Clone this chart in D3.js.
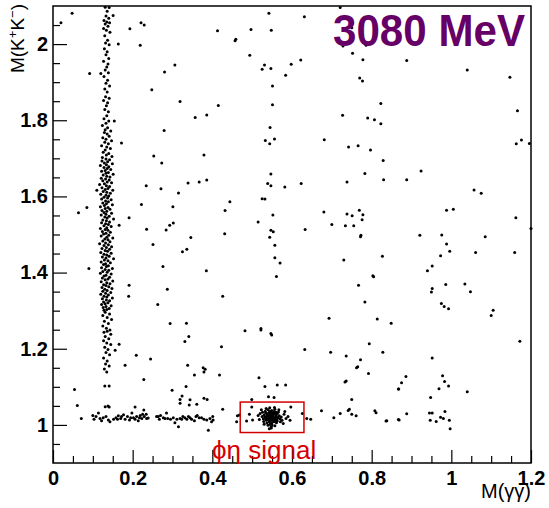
<!DOCTYPE html>
<html>
<head>
<meta charset="utf-8">
<script src="https://cdn.jsdelivr.net/npm/d3@7"></script>
<style>
  body { margin: 0; background: #fff; }
  svg text { font-family: "Liberation Sans", Arial, Helvetica, sans-serif; }
</style>
</head>
<body>
<div id="chart"></div>
<script>
// axis ranges and ticks
const xDomain = [0, 1.2];
const yDomain = [0.9, 2.1];
const xTicks = [0, 0.2, 0.4, 0.6, 0.8, 1.0, 1.2];
const xTickLabels = ["0", "0.2", "0.4", "0.6", "0.8", "1", "1.2"];
const yTicks = [1.0, 1.2, 1.4, 1.6, 1.8, 2.0];
const yTickLabels = ["1", "1.2", "1.4", "1.6", "1.8", "2"];

const titleText = "3080 MeV";
const signalLabel = "ϕη signal";
// signal window [x0, x1, y0, y1]
const signalBox = [0.47, 0.63, 0.98, 1.06];

// events: [M(gg), M(KK)]
// eta band (vertical, M(gg) ~ 0.135)
const etaBandPts = [
  [0.131,2.097],[0.141,2.096],[0.136,2.086],[0.133,2.074],[0.140,2.068],[0.128,2.062],[0.135,2.058],[0.142,2.056],
  [0.131,2.053],[0.138,2.047],[0.127,2.041],[0.134,2.036],[0.143,2.031],[0.130,2.022],[0.137,2.010],[0.132,2.003],
  [0.141,1.998],[0.129,1.988],[0.136,1.980],[0.133,1.972],[0.140,1.962],[0.127,1.955],[0.138,1.948],[0.135,1.940],
  [0.131,1.932],[0.139,1.925],[0.128,1.915],[0.137,1.905],[0.133,1.897],[0.142,1.890],[0.130,1.882],[0.136,1.874],
  [0.132,1.862],[0.141,1.858],[0.127,1.852],[0.137,1.846],[0.134,1.838],[0.130,1.828],[0.139,1.822],[0.135,1.812],
  [0.128,1.804],[0.140,1.798],[0.133,1.792],[0.124,1.786],[0.137,1.780],[0.131,1.775],[0.145,1.772],[0.129,1.768],
  [0.136,1.764],[0.141,1.758],[0.125,1.754],[0.133,1.750],[0.147,1.746],[0.130,1.742],[0.139,1.738],[0.122,1.733],
  [0.135,1.730],[0.144,1.726],[0.131,1.722],[0.126,1.716],[0.140,1.713],[0.134,1.709],[0.148,1.705],[0.124,1.702],
  [0.133,1.698],[0.142,1.696],[0.123,1.693],[0.137,1.691],[0.129,1.688],[0.149,1.686],[0.134,1.683],[0.119,1.681],
  [0.140,1.678],[0.128,1.676],[0.136,1.673],[0.145,1.671],[0.131,1.668],[0.122,1.666],[0.139,1.663],[0.133,1.661],
  [0.151,1.658],[0.126,1.656],[0.135,1.653],[0.143,1.651],[0.121,1.648],[0.132,1.646],[0.141,1.643],[0.125,1.641],
  [0.136,1.638],[0.147,1.636],[0.129,1.633],[0.117,1.631],[0.134,1.628],[0.142,1.626],[0.123,1.623],[0.138,1.621],
  [0.131,1.618],[0.150,1.616],[0.126,1.613],[0.135,1.611],[0.144,1.608],[0.120,1.606],[0.133,1.603],[0.140,1.601],
  [0.128,1.598],[0.137,1.596],[0.122,1.593],[0.146,1.591],[0.132,1.588],[0.139,1.586],[0.125,1.583],[0.134,1.581],
  [0.149,1.578],[0.129,1.576],[0.119,1.573],[0.138,1.571],[0.131,1.568],[0.143,1.566],[0.123,1.563],[0.135,1.561],
  [0.128,1.558],[0.147,1.556],[0.133,1.553],[0.121,1.551],[0.141,1.548],[0.130,1.546],[0.136,1.543],[0.152,1.541],
  [0.125,1.538],[0.134,1.536],[0.142,1.533],[0.122,1.531],[0.132,1.528],[0.139,1.526],[0.128,1.523],[0.146,1.521],
  [0.135,1.518],[0.119,1.516],[0.131,1.513],[0.138,1.511],[0.124,1.508],[0.144,1.506],[0.133,1.503],[0.127,1.501],
  [0.140,1.498],[0.121,1.496],[0.135,1.493],[0.150,1.491],[0.130,1.488],[0.138,1.486],[0.125,1.483],[0.143,1.481],
  [0.132,1.478],[0.117,1.476],[0.139,1.473],[0.128,1.471],[0.147,1.468],[0.134,1.466],[0.123,1.463],[0.142,1.461],
  [0.131,1.458],[0.137,1.456],[0.120,1.453],[0.146,1.451],[0.128,1.448],[0.135,1.446],[0.141,1.443],[0.124,1.441],
  [0.133,1.438],[0.152,1.436],[0.129,1.433],[0.138,1.431],[0.121,1.428],[0.144,1.426],[0.132,1.423],[0.127,1.421],
  [0.139,1.418],[0.134,1.416],[0.122,1.413],[0.149,1.411],[0.131,1.408],[0.140,1.406],[0.125,1.403],[0.136,1.401],
  [0.119,1.398],[0.146,1.396],[0.133,1.393],[0.128,1.391],[0.142,1.388],[0.124,1.386],[0.138,1.383],[0.131,1.381],
  [0.150,1.378],[0.121,1.376],[0.135,1.373],[0.143,1.371],[0.127,1.368],[0.133,1.366],[0.140,1.363],[0.123,1.361],
  [0.148,1.358],[0.130,1.356],[0.136,1.353],[0.125,1.351],[0.145,1.348],[0.132,1.346],[0.120,1.343],[0.139,1.341],
  [0.128,1.338],[0.135,1.336],[0.149,1.333],[0.124,1.331],[0.134,1.328],[0.142,1.326],[0.127,1.323],[0.138,1.321],
  [0.131,1.318],[0.122,1.316],[0.146,1.313],[0.133,1.311],[0.126,1.308],[0.141,1.306],[0.135,1.303],[0.128,1.301],
  [0.131,1.296],[0.142,1.291],[0.125,1.287],[0.136,1.282],[0.147,1.277],[0.129,1.272],[0.139,1.266],[0.125,1.260],
  [0.134,1.254],[0.143,1.249],[0.128,1.243],[0.136,1.246],[0.145,1.238],[0.131,1.232],[0.140,1.226],[0.127,1.221],
  [0.135,1.215],[0.145,1.211],[0.130,1.204],[0.138,1.198],[0.133,1.190],[0.142,1.184],[0.127,1.176],[0.136,1.168],
  [0.132,1.160],[0.141,1.155],[0.129,1.147],[0.135,1.139],[0.130,1.102],[0.141,1.102],[0.131,1.048],[0.138,1.050],
  [0.141,1.047]
];

// phi band (horizontal, M(KK) ~ 1.02)
const phiBandPts = [
  [0.100,1.025],[0.103,1.015],[0.108,1.022],[0.114,1.031],[0.118,1.017],[0.122,1.011],[0.126,1.019],[0.133,1.022],
  [0.139,1.013],[0.143,1.008],[0.152,1.015],[0.158,1.019],[0.162,1.015],[0.164,1.024],[0.170,1.017],[0.172,1.022],
  [0.177,1.027],[0.181,1.015],[0.187,1.022],[0.192,1.013],[0.195,1.019],[0.198,1.031],[0.202,1.019],[0.206,1.015],
  [0.210,1.022],[0.214,1.011],[0.217,1.019],[0.219,1.025],[0.223,1.017],[0.225,1.028],[0.229,1.022],[0.234,1.028],
  [0.235,1.017],[0.239,1.018],[0.260,1.022],[0.264,1.022],[0.267,1.015],[0.270,1.025],[0.277,1.019],[0.281,1.017],
  [0.285,1.031],[0.288,1.017],[0.295,1.015],[0.302,1.019],[0.306,1.006],[0.311,1.015],[0.315,0.995],[0.319,1.017],
  [0.323,1.015],[0.326,1.022],[0.331,1.019],[0.336,1.015],[0.340,1.022],[0.344,1.019],[0.348,1.015],[0.355,1.011],
  [0.359,1.022],[0.362,1.025],[0.367,1.019],[0.373,1.019],[0.379,1.015],[0.386,1.013],[0.394,1.017],[0.398,1.008],
  [0.401,1.022],[0.402,1.013]
];

// phi-eta signal cluster
const signalPts = [
  [0.548,1.020],[0.540,1.022],[0.556,1.018],[0.545,1.028],[0.552,1.012],[0.535,1.017],[0.560,1.025],[0.543,1.008],
  [0.550,1.032],[0.538,1.027],[0.558,1.010],[0.532,1.021],[0.565,1.019],[0.546,1.015],[0.553,1.024],[0.541,1.031],
  [0.557,1.030],[0.536,1.012],[0.562,1.014],[0.549,1.005],[0.544,1.035],[0.530,1.026],[0.568,1.024],[0.551,1.018],
  [0.539,1.019],[0.555,1.035],[0.547,1.025],[0.542,1.014],[0.559,1.021],[0.534,1.031],[0.563,1.029],[0.528,1.016],
  [0.570,1.016],[0.545,1.002],[0.554,1.008],[0.537,1.005],[0.561,1.006],[0.549,1.038],[0.540,1.040],[0.557,1.041],
  [0.525,1.022],[0.573,1.021],[0.533,1.036],[0.566,1.034],[0.546,1.011],[0.552,1.029],[0.543,1.022],[0.558,1.016],
  [0.537,1.024],[0.563,1.010],[0.529,1.009],[0.575,1.012],[0.550,1.000],[0.548,0.996],[0.548,0.992],[0.520,1.030],
  [0.580,1.028],[0.585,1.017],[0.518,1.014],[0.590,1.022],[0.523,1.040],[0.578,1.004],[0.530,1.002],[0.567,1.040],
  [0.544,1.045],[0.556,1.046],[0.535,1.043],[0.515,1.025],[0.595,1.012],[0.571,1.008],[0.541,1.017],[0.553,1.014],
  [0.546,1.031],[0.560,1.033],[0.534,1.014],[0.562,1.020],[0.526,1.033],[0.582,1.035],[0.540,0.999],[0.557,0.998]
];

// scattered background events
const otherPts = [
  [0.020,2.056],[0.048,2.081],[0.151,2.075],[0.164,2.000],[0.193,2.040],[0.221,2.056],[0.229,2.050],[0.219,1.997],
  [0.092,1.923],[0.120,1.923],[0.306,1.945],[0.280,1.927],[0.248,1.880],[0.319,1.849],[0.357,1.807],[0.154,1.798],
  [0.279,1.773],[0.172,1.740],[0.253,1.706],[0.273,1.688],
  [0.542,2.081],[0.631,2.072],[0.413,2.035],[0.497,2.038],[0.548,2.036],[0.457,2.009],[0.459,2.013],[0.494,1.971],
  [0.531,1.945],[0.525,1.934],[0.547,1.936],[0.598,1.947],[0.622,1.958],[0.584,1.918],[0.551,1.890],[0.415,1.839],
  [0.386,1.814],[0.551,1.841],[0.545,1.781],[0.533,1.747],[0.544,1.738],[0.556,1.751],[0.379,1.709],
  [0.721,2.096],[0.750,2.043],[0.728,1.995],[0.786,1.997],[0.752,1.976],[0.778,1.959],[0.770,1.911],[0.777,1.903],
  [0.823,1.844],[0.727,1.813],[0.790,1.806],[0.807,1.801],[0.823,1.791],[0.681,1.749],[0.742,1.730],[0.766,1.733],
  [0.797,1.722],[0.829,1.694],
  [0.888,1.957],[1.040,1.932],[1.147,1.913],[1.166,1.825],[1.163,1.738],[1.176,1.748],[1.196,1.739],
  [0.064,1.557],[0.085,1.571],[0.110,1.616],[0.090,1.411],[0.234,1.628],[0.271,1.620],[0.339,1.635],[0.367,1.638],
  [0.315,1.609],[0.222,1.579],[0.301,1.573],[0.191,1.544],[0.166,1.524],[0.235,1.514],[0.284,1.512],[0.293,1.524],
  [0.302,1.530],[0.346,1.492],[0.251,1.474],[0.325,1.455],[0.336,1.461],[0.276,1.416],[0.191,1.367],[0.190,1.338],
  [0.287,1.356],[0.263,1.316],[0.294,1.266],[0.335,1.267],
  [0.386,1.643],[0.547,1.659],[0.539,1.634],[0.547,1.628],[0.582,1.625],[0.623,1.634],[0.444,1.586],[0.525,1.594],
  [0.532,1.593],[0.432,1.563],[0.552,1.551],[0.515,1.533],[0.431,1.502],[0.547,1.511],[0.553,1.507],[0.544,1.493],
  [0.633,1.513],[0.557,1.472],[0.557,1.439],[0.570,1.425],[0.561,1.390],[0.385,1.405],[0.426,1.338],[0.522,1.253],
  [0.693,1.280],[0.814,1.278],[0.849,1.267],
  [0.783,1.660],[0.830,1.644],[0.738,1.638],[0.680,1.559],[0.738,1.554],[0.751,1.549],[0.769,1.564],[0.778,1.552],
  [0.776,1.539],[0.700,1.526],[0.734,1.523],[0.755,1.523],[0.773,1.498],[0.772,1.494],[0.730,1.433],[0.827,1.443],
  [0.803,1.392],[0.805,1.389],[0.767,1.367],[0.783,1.323],
  [0.924,1.667],[0.888,1.644],[1.057,1.617],[1.075,1.608],[0.988,1.564],[1.005,1.566],[1.162,1.544],[1.200,1.516],
  [0.921,1.498],[0.976,1.499],[1.085,1.494],[0.988,1.475],[0.996,1.456],[0.973,1.444],[1.061,1.453],[1.159,1.453],
  [0.952,1.417],[0.940,1.405],[0.986,1.369],[1.034,1.370],[0.952,1.358],[0.950,1.349],[1.048,1.350],[0.975,1.319],
  [0.982,1.311],[0.993,1.305],[1.105,1.301],[1.100,1.287],
  [0.166,1.212],[0.156,1.196],[0.181,1.157],[0.209,1.183],[0.245,1.173],[0.228,1.119],[0.054,1.093],[0.061,1.051],
  [0.071,1.017],[0.299,1.091],[0.331,1.219],[0.341,1.232],[0.338,1.157],[0.355,1.131],[0.334,1.101],[0.319,1.067],
  [0.324,1.076],[0.319,1.057],[0.344,1.066],[0.342,1.052],[0.361,1.054],[0.206,1.047],[0.228,1.039],
  [0.482,1.247],[0.522,1.249],[0.547,1.240],[0.549,1.236],[0.423,1.205],[0.632,1.198],[0.377,1.150],[0.382,1.146],
  [0.379,1.139],[0.418,1.131],[0.517,1.124],[0.532,1.101],[0.563,1.105],[0.584,1.105],[0.379,1.070],[0.387,1.067],
  [0.499,1.067],[0.541,1.074],[0.555,1.072],[0.426,1.041],[0.499,1.047],[0.597,1.047],[0.626,1.030],[0.637,1.017],
  [0.647,1.015],[0.463,1.024],[0.468,1.026],[0.461,1.008],[0.486,1.010],[0.493,1.028],[0.501,1.013],[0.390,0.986],
  [0.543,0.990],[0.674,1.037],[0.705,1.019],[0.721,1.030],[0.741,1.038],[0.744,1.041],[0.750,1.067],[0.750,1.028],
  [0.761,1.024],[0.808,1.037],[0.811,1.032],[0.838,1.011],[0.869,1.013],[0.697,1.191],[0.736,1.181],[0.772,1.171],
  [0.762,1.150],[0.765,1.153],[0.794,1.213],[0.828,1.191],[0.792,1.135],[0.733,1.113],[0.736,1.115],[0.868,1.094],
  [1.172,1.220],[0.952,1.176],[0.886,1.127],[0.875,1.111],[0.867,1.094],[0.978,1.129],[0.983,1.114],[0.993,1.102],
  [0.969,1.095],[1.040,1.087],[0.948,1.072],[0.945,1.031],[0.952,1.031],[0.984,1.035],[0.888,1.029],[0.867,1.014],
  [0.836,1.010],[0.947,1.012],[0.962,1.009],[0.973,1.020],[0.980,1.017],[0.995,1.012],[0.997,0.990]
];

const margin = {top: 6, right: 18, bottom: 45, left: 53};
const width = 549 - margin.left - margin.right;
const height = 508 - margin.top - margin.bottom;

const svg = d3.select("#chart").append("svg")
    .attr("width", 549)
    .attr("height", 508);

const g = svg.append("g")
    .attr("transform", "translate(" + margin.left + "," + margin.top + ")");

const x = d3.scaleLinear().domain(xDomain).range([0, width]);
const y = d3.scaleLinear().domain(yDomain).range([height, 0]);

// minor ticks
const xMinor = d3.range(0.05, 1.2, 0.05).filter(v => Math.abs(v * 5 - Math.round(v * 5)) > 1e-6);
const yMinor = d3.range(0.95, 2.1, 0.05).filter(v => Math.abs(v * 5 - Math.round(v * 5)) > 1e-6);

g.append("g")
    .attr("transform", "translate(0," + height + ")")
    .call(d3.axisBottom(x).tickValues(xMinor).tickSize(-7).tickFormat(""))
    .call(a => a.select(".domain").remove());

g.append("g")
    .call(d3.axisLeft(y).tickValues(yMinor).tickSize(-7).tickFormat(""))
    .call(a => a.select(".domain").remove());

// major ticks with labels
const xAxis = g.append("g")
    .attr("transform", "translate(0," + height + ")")
    .call(d3.axisBottom(x).tickValues(xTicks).tickSize(-13).tickPadding(8)
        .tickFormat((d, i) => xTickLabels[i]));
xAxis.select(".domain").remove();

const yAxis = g.append("g")
    .call(d3.axisLeft(y).tickValues(yTicks).tickSize(-14).tickPadding(5)
        .tickFormat((d, i) => yTickLabels[i]));
yAxis.select(".domain").remove();

svg.selectAll(".tick line").attr("stroke", "#000").attr("stroke-width", 1.2);
svg.selectAll(".tick text")
    .attr("fill", "#000")
    .style("font-size", "20px")
    .style("font-weight", "bold");

// frame
g.append("rect")
    .attr("width", width)
    .attr("height", height)
    .attr("fill", "none")
    .attr("stroke", "#000")
    .attr("stroke-width", 1.5);

// title
svg.append("text")
    .attr("x", 333)
    .attr("y", 46)
    .attr("fill", "#660066")
    .attr("textLength", 192)
    .attr("lengthAdjust", "spacingAndGlyphs")
    .style("font-size", "44px")
    .style("font-weight", "bold")
    .text(titleText);

// events
const allPts = etaBandPts.concat(phiBandPts, signalPts, otherPts);
g.append("g").selectAll("circle")
    .data(allPts)
    .join("circle")
    .attr("cx", d => x(d[0]))
    .attr("cy", d => y(d[1]))
    .attr("r", 1.5)
    .attr("fill", "#000");

// signal box
g.append("rect")
    .attr("x", x(signalBox[0]))
    .attr("y", y(signalBox[3]))
    .attr("width", x(signalBox[1]) - x(signalBox[0]))
    .attr("height", y(signalBox[2]) - y(signalBox[3]))
    .attr("fill", "none")
    .attr("stroke", "#d40000")
    .attr("stroke-width", 1.5);

svg.append("text")
    .attr("x", 212)
    .attr("y", 459)
    .attr("fill", "#d40000")
    .style("font-size", "26px")
    .text(signalLabel);

// axis titles
svg.append("text")
    .attr("x", 531)
    .attr("y", 498)
    .attr("text-anchor", "end")
    .style("font-size", "20px")
    .text("M(γγ)");

const yTitle = svg.append("text")
    .attr("transform", "translate(24,4) rotate(-90)")
    .attr("text-anchor", "end")
    .style("font-size", "19px");
yTitle.append("tspan").text("M(K");
yTitle.append("tspan").attr("dy", -7).style("font-size", "13px").text("+");
yTitle.append("tspan").attr("dy", 7).text("K");
yTitle.append("tspan").attr("dy", -7).style("font-size", "13px").text("−");
yTitle.append("tspan").attr("dy", 7).text(")");
</script>
</body>
</html>
